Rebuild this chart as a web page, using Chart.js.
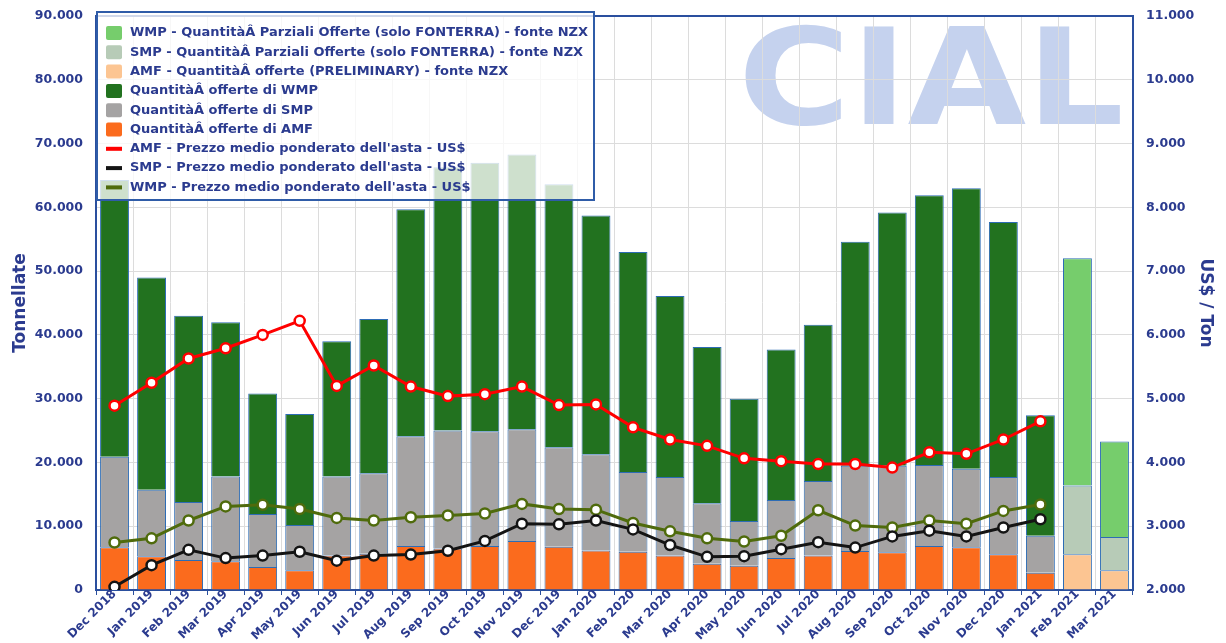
<!DOCTYPE html>
<html><head><meta charset="utf-8">
<script src="https://cdn.jsdelivr.net/npm/chart.js@4.4.0/dist/chart.umd.min.js"></script>
<style>html,body{margin:0;padding:0;background:#fff;}canvas{display:block;}</style>
</head><body>
<canvas id="c" width="1226" height="643"></canvas>
<script>
const labels = ['Dec 2018','Jan 2019','Feb 2019','Mar 2019','Apr 2019','May 2019','Jun 2019','Jul 2019','Aug 2019','Sep 2019','Oct 2019','Nov 2019','Dec 2019','Jan 2020','Feb 2020','Mar 2020','Apr 2020','May 2020','Jun 2020','Jul 2020','Aug 2020','Sep 2020','Oct 2020','Nov 2020','Dec 2020','Jan 2021','Feb 2021','Mar 2021'];

// Quantities offered (tonnes) - stacked segments
const amfQty = [6700,5300,4700,4500,3600,3100,5400,5700,6900,6500,6900,7700,6800,6200,6000,5400,4100,3800,5000,5400,6100,5900,6900,6700,5600,2700,null,null];
const smpQty = [14200,10400,9100,13300,8300,7100,12400,12600,17200,18500,18000,17500,15600,15100,12500,12300,9500,7000,9100,11700,13400,13600,12700,12300,12100,5800,null,null];
const wmpQty = [43400,33300,29200,24200,18900,17400,21200,24200,35600,41300,42100,43100,41200,37400,34500,28400,24500,19200,23600,24500,35100,39700,42300,44000,40000,18900,null,null];
const amfPrelim = [null,null,null,null,null,null,null,null,null,null,null,null,null,null,null,null,null,null,null,null,null,null,null,null,null,null,5600,3100];
const smpPartial = [null,null,null,null,null,null,null,null,null,null,null,null,null,null,null,null,null,null,null,null,null,null,null,null,null,null,10800,5200];
const wmpPartial = [null,null,null,null,null,null,null,null,null,null,null,null,null,null,null,null,null,null,null,null,null,null,null,null,null,null,35600,15000];

// Weighted average auction prices (US$/Ton)
const amfPrice = [4890,5250,5630,5790,6000,6220,5200,5520,5190,5040,5070,5190,4900,4910,4550,4360,4260,4065,4020,3975,3975,3920,4160,4135,4360,4645,null,null];
const smpPrice = [2050,2390,2630,2500,2540,2600,2460,2540,2555,2615,2770,3040,3030,3090,2950,2705,2520,2530,2640,2750,2665,2840,2930,2840,2980,3110,null,null];
const wmpPrice = [2745,2810,3090,3310,3335,3270,3130,3090,3140,3170,3200,3350,3270,3260,3050,2920,2810,2760,2850,3250,3010,2980,3090,3040,3240,3340,null,null];

const leftTicksMax = 90000, leftStep = 10000;
const rightMin = 2000, rightMax = 11000, rightStep = 1000;

const NAVY = '#2b3b8f';
const AXIS = '#2a4f9e';
const BARBORDER = '#2d6cb5';
const FONT = '"DejaVu Sans", Verdana, sans-serif';

function fmt(v){ return String(v).replace(/\B(?=(\d{3})+(?!\d))/g,'.'); }

const barCommon = {type:'bar', yAxisID:'y', stack:'q', borderColor:BARBORDER, borderWidth:1, barPercentage:0.78, categoryPercentage:1, order:2};
const lineCommon = {type:'line', yAxisID:'y2', borderWidth:3, pointRadius:5, pointBorderWidth:2.5, pointBackgroundColor:'#ffffff', tension:0, spanGaps:false, order:0, fill:false};

const datasets = [
  Object.assign({}, barCommon, {label:'Quantit\u00e0\u00c2 offerte di AMF', data:amfQty, backgroundColor:'#fb6b1d'}),
  Object.assign({}, barCommon, {label:'AMF - Quantit\u00e0\u00c2 offerte (PRELIMINARY) - fonte NZX', data:amfPrelim, backgroundColor:'#fcc592'}),
  Object.assign({}, barCommon, {label:'Quantit\u00e0\u00c2 offerte di SMP', data:smpQty, backgroundColor:'#a5a3a3'}),
  Object.assign({}, barCommon, {label:'SMP - Quantit\u00e0\u00c2 Parziali Offerte (solo FONTERRA) - fonte NZX', data:smpPartial, backgroundColor:'#b7cbb7'}),
  Object.assign({}, barCommon, {label:'Quantit\u00e0\u00c2 offerte di WMP', data:wmpQty, backgroundColor:'#22721f'}),
  Object.assign({}, barCommon, {label:'WMP - Quantit\u00e0\u00c2 Parziali Offerte (solo FONTERRA) - fonte NZX', data:wmpPartial, backgroundColor:'#76cd6c'}),
  Object.assign({}, lineCommon, {label:"AMF - Prezzo medio ponderato dell'asta - US$", data:amfPrice, borderColor:'#ff0000', pointBorderColor:'#ff0000'}),
  Object.assign({}, lineCommon, {label:"SMP - Prezzo medio ponderato dell'asta - US$", data:smpPrice, borderColor:'#141414', pointBorderColor:'#141414'}),
  Object.assign({}, lineCommon, {label:"WMP - Prezzo medio ponderato dell'asta - US$", data:wmpPrice, borderColor:'#4f6b0c', pointBorderColor:'#4f6b0c'})
];
const legendOrder = [5,3,1,4,2,0,6,7,8];

const bgLogoPlugin = {
  id:'bgLogo',
  beforeDraw(chart){
    const ctx = chart.ctx;
    ctx.save();
    ctx.fillStyle = '#ffffff';
    ctx.fillRect(0,0,chart.width,chart.height);
    ctx.font = 'bold 128px ' + FONT;
    ctx.fillStyle = '#c5d2ee';
    ctx.textBaseline = 'alphabetic';
    const w = ctx.measureText('CIAL').width;
    ctx.translate(738, 124);
    ctx.scale(386 / w, 1.04);
    ctx.fillText('CIAL', 0, 0);
    ctx.restore();
  }
};

const frameLegendPlugin = {
  id:'frameLegend',
  afterDraw(chart){
    const ctx = chart.ctx;
    const a = chart.chartArea;
    ctx.save();
    ctx.strokeStyle = AXIS; ctx.lineWidth = 2;
    ctx.beginPath(); ctx.moveTo(a.left, a.top); ctx.lineTo(a.right, a.top); ctx.stroke();
    const bx = 97, by = 12, bw = 497, bh = 188;
    ctx.fillStyle = 'rgba(255,255,255,0.78)';
    ctx.fillRect(bx, by, bw, bh);
    ctx.strokeStyle = '#2f5ca8'; ctx.lineWidth = 2;
    ctx.strokeRect(bx, by, bw, bh);
    ctx.font = 'bold 13px ' + FONT;
    ctx.textBaseline = 'middle';
    legendOrder.forEach((di, k) => {
      const ds = chart.data.datasets[di];
      const y = 33 + k * 19.3;
      if (ds.type === 'bar') {
        ctx.fillStyle = ds.backgroundColor;
        ctx.beginPath();
        if (ctx.roundRect) ctx.roundRect(106, y - 7, 16, 14, 2); else ctx.rect(106, y - 7, 16, 14);
        ctx.fill();
      } else {
        ctx.fillStyle = ds.borderColor;
        ctx.fillRect(106, y - 2, 16, 4);
      }
      ctx.fillStyle = NAVY;
      ctx.fillText(ds.label, 130, y);
    });
    ctx.restore();
  }
};

function fitY(w){ return function(s){ s.width = w; s.paddingTop = 0; s.paddingBottom = 0; }; }

new Chart(document.getElementById('c'), {
  data:{labels:labels, datasets:datasets},
  plugins:[bgLogoPlugin, frameLegendPlugin],
  options:{
    responsive:false, animation:false, devicePixelRatio:1,
    layout:{padding:{top:16, left:0, right:0, bottom:0}},
    plugins:{legend:{display:false}, tooltip:{enabled:false}},
    scales:{
      x:{
        stacked:true, offset:true,
        grid:{offset:true, color:'#dcdcdc', drawTicks:true, tickLength:5, tickColor:AXIS},
        border:{color:AXIS, width:2},
        ticks:{maxRotation:45, minRotation:45, autoSkip:false, padding:-8, color:NAVY, font:{family:FONT, size:12, weight:'bold'}},
        afterFit(s){ s.height = 53; }
      },
      y:{
        position:'left', stacked:true, min:0, max:leftTicksMax,
        grid:{color:'#dcdcdc', drawTicks:false},
        border:{color:AXIS, width:2},
        ticks:{stepSize:leftStep, padding:13, color:NAVY, font:{family:FONT, size:12.5, weight:'bold'}, callback:(v)=>fmt(v)},
        title:{display:true, text:'Tonnellate', color:NAVY, padding:{top:10,bottom:4}, font:{family:FONT, size:17, weight:'bold'}},
        afterFit: fitY(96)
      },
      y2:{
        position:'right', min:rightMin, max:rightMax,
        grid:{drawOnChartArea:false, drawTicks:false},
        border:{color:AXIS, width:2},
        ticks:{stepSize:rightStep, padding:13, color:NAVY, font:{family:FONT, size:12.5, weight:'bold'}, callback:(v)=>fmt(v)},
        title:{display:true, text:'US$ / Ton', color:NAVY, padding:{top:10,bottom:4}, font:{family:FONT, size:17, weight:'bold'}},
        afterFit: fitY(93)
      }
    }
  }
});
</script></body></html>
